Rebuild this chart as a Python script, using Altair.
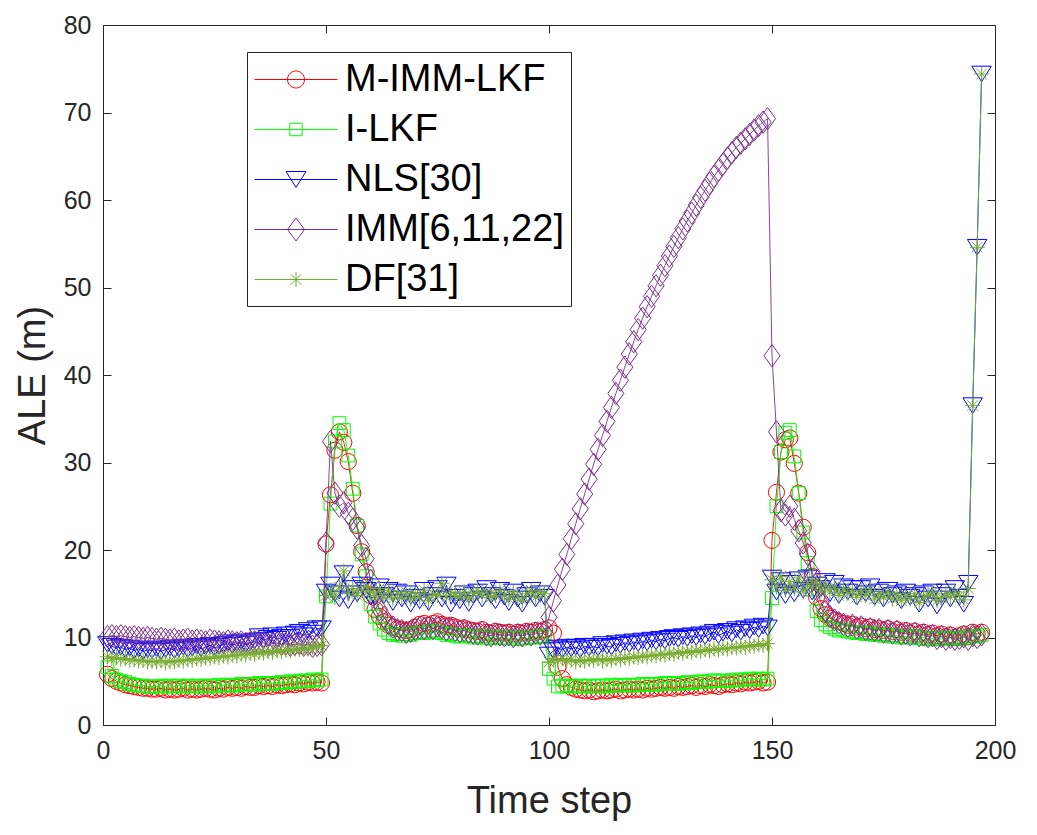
import altair as alt
import pandas as pd

# ---------------- data ----------------
steps = list(range(1, 198))
names = ["M-IMM-LKF", "I-LKF", "NLS[30]", "IMM[6,11,22]", "DF[31]"]
colors = ["#FF0000", "#00FF00", "#0000FF", "#7E2F8E", "#77AC30"]
x_ticks = [0, 50, 100, 150, 200]
y_ticks = [0, 10, 20, 30, 40, 50, 60, 70, 80]

m_imm_lkf = [
    5.8, 5.3, 5.0, 4.8, 4.6, 4.5, 4.4, 4.3, 4.2, 4.2,
    4.1, 4.1, 4.2, 4.0, 4.1, 4.0, 4.1, 4.2, 4.0, 4.1,
    4.0, 4.1, 4.2, 4.1, 4.0, 4.2, 4.1, 4.3, 4.2, 4.3,
    4.2, 4.4, 4.3, 4.3, 4.5, 4.4, 4.5, 4.4, 4.6, 4.5,
    4.6, 4.7, 4.6, 4.8, 4.7, 4.9, 4.8, 4.9, 4.8, 20.7,
    26.3, 31.4, 33.5, 32.3, 30.1, 26.5, 22.8, 19.8, 17.5, 14.8,
    13.2, 12.4, 11.8, 11.4, 11.2, 11.0, 10.9, 10.8, 10.9, 11.2,
    11.5, 11.6, 11.4, 11.6, 11.8, 11.5, 11.3, 11.4, 11.2, 11.0,
    11.1, 10.9, 10.8, 10.7, 10.9, 10.6, 10.5, 10.7, 10.6, 10.5,
    10.6, 10.4, 10.6, 10.5, 10.7, 10.6, 10.8, 10.7, 10.9, 11.1,
    10.5, 6.6, 5.3, 4.6, 4.3, 4.1, 4.0, 3.9, 4.0, 3.8,
    3.9, 4.0, 3.9, 4.0, 4.1, 3.9, 4.0, 4.1, 4.0, 4.1,
    4.0, 4.2, 4.1, 4.2, 4.3, 4.2, 4.3, 4.2, 4.4, 4.3,
    4.4, 4.5, 4.3, 4.5, 4.4, 4.6, 4.5, 4.4, 4.6, 4.7,
    4.6, 4.8, 4.7, 4.9, 4.8, 4.9, 5.0, 4.8, 4.9, 21.1,
    26.6, 31.2, 32.6, 32.8, 29.9, 26.5, 22.6, 19.7, 17.0, 14.6,
    13.3, 12.6, 12.2, 12.0, 11.8, 11.6, 11.4, 11.5, 11.2, 11.3,
    11.0, 11.2, 10.9, 11.0, 10.8, 11.0, 10.7, 10.9, 10.6, 10.8,
    10.5, 10.7, 10.4, 10.6, 10.3, 10.5, 10.2, 10.4, 10.1, 10.3,
    10.0, 10.2, 10.4, 10.1, 10.6, 10.4, 10.6,
]

i_lkf = [
    6.6, 5.6, 5.2, 5.0, 4.9, 4.7, 4.6, 4.5, 4.5, 4.4,
    4.4, 4.4, 4.5, 4.4, 4.5, 4.4, 4.5, 4.4, 4.5, 4.4,
    4.5, 4.4, 4.5, 4.5, 4.4, 4.6, 4.5, 4.6, 4.5, 4.6,
    4.7, 4.6, 4.7, 4.6, 4.8, 4.7, 4.8, 4.7, 4.8, 4.9,
    4.8, 5.0, 4.9, 5.0, 5.1, 5.0, 5.2, 5.1, 5.2, 14.7,
    25.3, 32.4, 34.5, 33.7, 30.8, 27.0, 22.8, 19.5, 17.0, 13.8,
    12.4, 11.6, 10.9, 10.5, 10.3, 10.4, 10.2, 10.4, 10.3, 10.5,
    10.6, 10.5, 10.7, 10.6, 10.8, 10.5, 10.3, 10.4, 10.2, 10.1,
    10.3, 10.2, 10.0, 10.1, 10.2, 9.9, 10.0, 10.1, 9.9, 10.0,
    9.9, 10.1, 9.8, 10.0, 9.9, 10.1, 10.0, 10.2, 10.1, 6.4,
    5.3, 4.4, 4.5, 4.4, 4.5, 4.4, 4.5, 4.4, 4.5, 4.4,
    4.5, 4.5, 4.4, 4.6, 4.5, 4.6, 4.5, 4.6, 4.5, 4.6,
    4.7, 4.6, 4.7, 4.6, 4.7, 4.8, 4.7, 4.8, 4.7, 4.8,
    4.9, 4.8, 4.9, 5.0, 4.9, 5.0, 5.1, 5.0, 5.1, 5.0,
    5.1, 5.2, 5.1, 5.2, 5.3, 5.2, 5.3, 5.2, 5.3, 14.5,
    25.0, 31.2, 33.4, 33.7, 30.7, 26.5, 22.0, 18.5, 15.5, 13.0,
    12.0, 11.5, 11.2, 11.0, 10.8, 10.9, 10.7, 10.6, 10.5, 10.6,
    10.4, 10.5, 10.3, 10.4, 10.2, 10.3, 10.1, 10.2, 10.0, 10.1,
    10.0, 10.2, 9.9, 10.0, 9.8, 9.9, 10.0, 9.8, 9.9, 10.0,
    9.8, 9.9, 10.1, 9.9, 10.2, 10.1, 10.3,
]

nls30 = [
    9.2, 9.0, 8.8, 8.9, 8.6, 8.8, 8.5, 8.7, 8.4, 8.6,
    8.5, 8.7, 8.4, 8.6, 8.8, 8.5, 8.7, 8.9, 8.6, 8.8,
    9.0, 8.7, 8.9, 9.1, 8.8, 9.0, 9.2, 9.4, 9.1, 9.3,
    9.5, 9.2, 9.4, 9.6, 10.1, 9.7, 9.9, 10.2, 9.8, 10.0,
    10.3, 10.0, 10.4, 10.6, 10.2, 10.8, 10.5, 11.0, 11.0, 15.2,
    16.0, 15.0, 14.4, 17.3, 14.2, 15.6, 15.0, 16.0, 15.4, 14.6,
    14.6, 15.8, 14.8, 15.4, 14.0, 15.2, 14.4, 15.0, 13.8, 14.6,
    14.2, 15.4, 14.0, 14.8, 15.6, 14.4, 16.0, 13.8, 14.6, 14.2,
    15.0, 13.9, 14.8, 15.2, 14.4, 15.6, 14.8, 14.2, 15.4, 14.6,
    14.0, 15.2, 14.4, 13.8, 14.8, 15.4, 14.4, 15.0, 14.6, 8.0,
    8.5, 8.8, 8.6, 8.9, 8.7, 8.9, 8.6, 9.0, 8.8, 9.0,
    8.8, 9.2, 9.0, 8.9, 9.3, 9.1, 9.4, 9.2, 9.5, 9.3,
    9.6, 9.4, 9.7, 9.5, 9.8, 9.6, 9.9, 10.0, 9.8, 10.1,
    9.9, 10.2, 10.0, 10.3, 10.1, 10.4, 10.6, 10.2, 10.5, 10.7,
    10.4, 10.9, 10.6, 11.0, 10.8, 11.2, 10.9, 11.3, 11.1, 16.8,
    15.2, 16.5, 14.8, 16.2, 15.0, 16.6, 15.4, 16.8, 15.2, 16.0,
    15.6, 16.4, 15.0, 16.2, 14.8, 15.8, 15.2, 15.6, 14.6, 15.6,
    15.0, 15.8, 14.6, 15.2, 14.4, 15.4, 14.8, 15.0, 14.2, 15.2,
    14.6, 14.8, 13.8, 15.0, 14.4, 15.2, 13.6, 14.8, 15.2, 14.4,
    15.6, 14.6, 13.8, 16.2, 36.5, 54.6, 74.4,
]

imm_6_11_22 = [
    10.1, 10.2, 10.1, 10.2, 10.1, 10.0, 10.1, 10.0, 9.9, 10.0,
    9.9, 9.8, 9.9, 9.8, 9.7, 9.8, 9.6, 9.7, 9.8, 9.6,
    9.7, 9.6, 9.5, 9.7, 9.6, 9.5, 9.4, 9.6, 9.5, 9.4,
    9.5, 9.3, 9.4, 9.5, 9.3, 9.4, 9.2, 9.3, 9.4, 9.2,
    9.3, 9.1, 9.2, 9.3, 9.1, 9.2, 9.0, 9.1, 9.2, 20.8,
    32.4, 26.5, 25.0, 25.4, 24.2, 23.5, 22.5, 20.5, 19.0, 16.5,
    14.5, 13.2, 12.3, 11.6, 11.2, 10.9, 10.8, 10.6, 10.7, 10.9,
    11.1, 11.0, 11.2, 11.0, 11.3, 11.1, 10.9, 11.0, 10.8, 10.7,
    10.8, 10.6, 10.5, 10.4, 10.6, 10.3, 10.2, 10.4, 10.3, 10.2,
    10.3, 10.1, 10.3, 10.2, 10.4, 10.3, 10.5, 10.4, 10.6, 12.3,
    14.2, 16.0, 17.8, 19.5, 21.3, 23.0, 24.7, 26.4, 28.1, 29.8,
    31.5, 33.1, 34.7, 36.3, 37.9, 39.4, 40.9, 42.4, 43.8, 45.2,
    46.5, 47.8, 49.0, 50.2, 51.4, 52.5, 53.6, 54.7, 55.7, 56.7,
    57.6, 58.5, 59.4, 60.3, 61.1, 61.9, 62.7, 63.4, 64.1, 64.8,
    65.4, 66.0, 66.5, 67.0, 67.5, 68.0, 68.5, 68.9, 69.3, 42.2,
    33.5, 24.5, 24.0, 25.0, 23.5, 22.2, 20.8, 19.5, 17.5, 15.5,
    14.0, 13.0, 12.4, 12.0, 11.7, 11.5, 11.3, 11.4, 11.1, 11.2,
    10.9, 11.0, 10.8, 10.9, 10.6, 10.8, 10.5, 10.7, 10.4, 10.5,
    10.3, 10.5, 10.2, 10.3, 10.1, 10.2, 9.9, 10.1, 9.8, 10.0,
    9.8, 9.9, 10.1, 9.8, 10.2, 10.0, 10.3,
]

df31 = [
    7.8, 7.6, 7.7, 7.5, 7.6, 7.4, 7.5, 7.3, 7.4, 7.2,
    7.3, 7.2, 7.4, 7.1, 7.3, 7.2, 7.4, 7.3, 7.5, 7.4,
    7.6, 7.5, 7.7, 7.6, 7.8, 7.7, 7.9, 7.8, 8.0, 7.9,
    8.1, 8.0, 8.2, 8.1, 8.3, 8.2, 8.4, 8.3, 8.5, 8.4,
    8.6, 8.5, 8.7, 8.6, 8.8, 8.7, 8.9, 9.0, 9.1, 14.8,
    15.4, 14.6, 15.8, 17.6, 15.0, 15.6, 14.8, 15.4, 15.8, 15.2,
    14.8, 15.6, 14.6, 15.4, 14.4, 15.0, 14.6, 15.2, 14.4, 15.0,
    14.6, 15.4, 14.2, 15.0, 14.8, 16.2, 14.6, 15.2, 14.8, 14.6,
    15.2, 14.4, 15.0, 15.4, 14.8, 15.2, 14.6, 14.8, 15.4, 14.8,
    14.4, 15.2, 14.6, 14.2, 15.0, 15.4, 14.6, 15.2, 15.0, 7.2,
    7.6, 7.4, 7.6, 7.3, 7.5, 7.2, 7.4, 7.3, 7.5, 7.4,
    7.6, 7.3, 7.5, 7.4, 7.6, 7.5, 7.7, 7.6, 7.8, 7.7,
    7.9, 7.8, 8.0, 7.9, 8.1, 8.0, 8.2, 8.1, 8.3, 8.2,
    8.4, 8.3, 8.5, 8.4, 8.6, 8.5, 8.7, 8.6, 8.8, 8.7,
    8.9, 8.8, 9.0, 8.9, 9.1, 9.0, 9.2, 9.1, 9.3, 16.6,
    15.8, 17.0, 15.4, 16.4, 15.6, 16.8, 15.2, 16.2, 15.8, 16.4,
    15.4, 16.0, 15.2, 15.8, 14.8, 15.6, 15.0, 15.4, 14.6, 15.4,
    14.8, 15.6, 14.4, 15.0, 14.6, 15.2, 14.4, 15.0, 14.2, 14.8,
    14.4, 15.0, 14.0, 14.6, 14.8, 15.2, 14.2, 14.6, 15.0, 14.6,
    15.2, 14.8, 14.3, 15.6, 36.5, 54.6, 74.4,
]

series_values = [m_imm_lkf, i_lkf, nls30, imm_6_11_22, df31]
for s in series_values:
    assert len(s) == len(steps), len(s)

# ---------------- marker styles ----------------
STAR = "M0,-1L0,1M-1,0L1,0M-0.7,-0.7L0.7,0.7M-0.7,0.7L0.7,-0.7"
marker_shapes = ["circle", "square", "M-1,-0.8L1,-0.8L0,0.8Z",
                 "M0,-1L0.72,0L0,1L-0.72,0Z", STAR]
marker_sizes = [260, 165, 380, 500, 230]

# legend glyphs: line segment + marker (unit = 20 px, symbol centre at 20 px)
legend_shapes = [
    "M-1,0L3.15,0M0.65,0A0.425,0.425 0 1,0 1.5,0A0.425,0.425 0 1,0 0.65,0",
    "M-1,0L3.15,0M0.765,-0.31L1.385,-0.31L1.385,0.31L0.765,0.31Z",
    "M-1,0L3.15,0M0.575,-0.4L1.575,-0.4L1.075,0.4Z",
    "M-1,0L3.15,0M1.075,-0.575L1.5,0L1.075,0.575L0.65,0Z",
    "M-1,0L3.15,0M1.075,-0.375L1.075,0.375M0.81,-0.265L1.34,0.265M0.81,0.265L1.34,-0.265",
]

rows = []
for name, vals in zip(names, series_values):
    for t, v in zip(steps, vals):
        rows.append({"step": t, "ale": v, "series": name})
data = pd.DataFrame(rows)

FONT = "Liberation Sans"
AX = "#262626"

xscale = alt.Scale(domain=[0, 200], nice=False, zero=False)
yscale = alt.Scale(domain=[0, 80], nice=False, zero=False)

x_main = alt.Axis(orient="bottom", values=x_ticks, offset=-8, tickSize=8, domain=False,
                  grid=False, labelFont=FONT, labelFontSize=25, labelColor=AX,
                  labelPadding=13, labelFlush=False, tickColor=AX, tickWidth=1,
                  title="Time step", titleFont=FONT, titleFontSize=38,
                  titleFontWeight="normal", titleColor=AX, titlePadding=19)
y_main = alt.Axis(orient="left", values=y_ticks, offset=-8, tickSize=8, domain=False,
                  grid=False, labelFont=FONT, labelFontSize=25, labelColor=AX,
                  labelPadding=12, labelFlush=False, tickColor=AX, tickWidth=1,
                  title="ALE (m)", titleFont=FONT, titleFontSize=38,
                  titleFontWeight="normal", titleColor=AX, titlePadding=11)
x_top = alt.Axis(orient="top", values=x_ticks, offset=-8, tickSize=8, domain=False,
                 grid=False, labels=False, tickColor=AX, tickWidth=1, title=None)
y_right = alt.Axis(orient="right", values=y_ticks, offset=-8, tickSize=8, domain=False,
                   grid=False, labels=False, tickColor=AX, tickWidth=1, title=None)

base = alt.Chart(data)
layers = []
for i, (name, col) in enumerate(zip(names, colors)):
    sub = base.transform_filter(alt.datum.series == name)
    if i == 0:
        xa, ya = x_main, y_main
    else:
        xa, ya = None, None
    line = sub.mark_line(color=col, strokeWidth=0.9).encode(
        x=alt.X("step:Q", scale=xscale, axis=xa),
        y=alt.Y("ale:Q", scale=yscale, axis=ya),
    )
    if i == 0:
        pxa, pya = x_top, y_right
    else:
        pxa, pya = None, None
    pts = sub.mark_point(shape=marker_shapes[i], size=marker_sizes[i], filled=False,
                         color=col, strokeWidth=1, opacity=1).encode(
        x=alt.X("step:Q", scale=xscale, axis=pxa),
        y=alt.Y("ale:Q", scale=yscale, axis=pya),
    )
    layers += [line, pts]

leg_kw = dict(title=None, orient="none", legendX=144, legendY=27,
              labelFont=FONT, labelFontSize=38, labelColor="black",
              symbolSize=1600, symbolStrokeWidth=1, symbolOpacity=1,
              labelOffset=50, padding=7, rowPadding=10, fillColor="white",
              strokeColor=AX, cornerRadius=0, labelLimit=600)

legend_layer = alt.Chart(pd.DataFrame({"series": names})).mark_point(
    filled=False, clip=True, strokeWidth=1, size=10
).encode(
    x=alt.value(-300), y=alt.value(-300),
    color=alt.Color("series:N", scale=alt.Scale(domain=names, range=colors),
                    legend=alt.Legend(**leg_kw)),
    shape=alt.Shape("series:N", scale=alt.Scale(domain=names, range=legend_shapes),
                    legend=alt.Legend(**leg_kw)),
)
layers.append(legend_layer)

chart = alt.layer(*layers).resolve_axis(x="independent", y="independent").properties(
    width=892, height=700,
    autosize=alt.AutoSizeParams(type="none"),
    padding={"left": 95, "top": 17, "right": 26, "bottom": 108},
    background="white",
).configure_view(stroke=AX, strokeWidth=1)

chart.save("out.html", embed_options={"renderer": "svg", "actions": False})
